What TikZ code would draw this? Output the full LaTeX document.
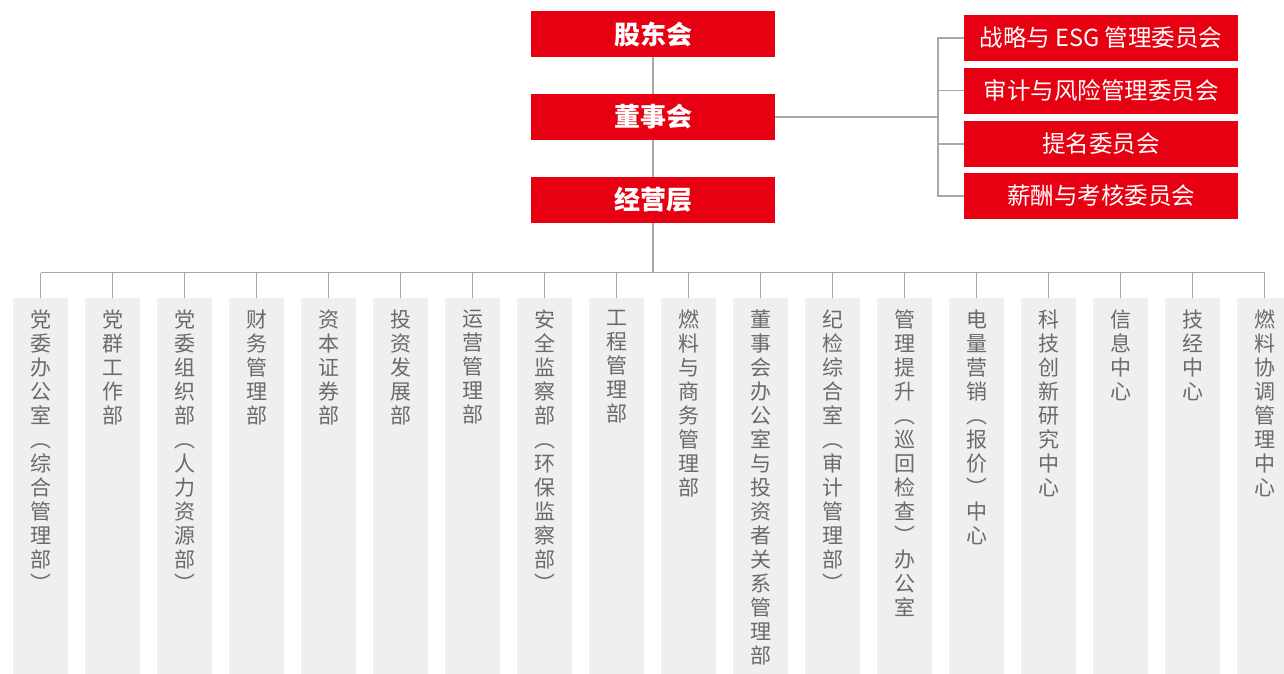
\documentclass[tikz,border=0pt]{standalone}
\usepackage{fontspec}
\setmainfont{Noto Sans CJK SC}
\definecolor{cred}{HTML}{E60012}
\definecolor{cgrayfill}{HTML}{EFEFEF}
\definecolor{cline}{HTML}{A8A8A8}
\definecolor{ctext}{HTML}{6A6A6A}
\ExplSyntaxOn
\NewDocumentCommand\vtxt{m}{\tl_set:Nx\l_tmpa_tl{#1}\vtop{\baselineskip=24pt\lineskiplimit=-\maxdimen\tl_map_inline:Nn\l_tmpa_tl{\hbox_to_wd:nn{1em}{\hss##1\hss}}}}
\ExplSyntaxOff
\begin{document}
\begin{tikzpicture}[x=1pt,y=-1pt,
  topbox/.style={fill=cred,minimum width=244pt,minimum height=46pt,inner sep=0pt,text=white,font=\fontsize{26}{28}\selectfont\bfseries},
  combox/.style={fill=cred,minimum width=274pt,minimum height=46pt,inner sep=0pt,text=white,font=\fontsize{23.5}{26}\selectfont},
  deptbox/.style={fill=cgrayfill,minimum width=55pt,minimum height=380pt,inner sep=0pt,anchor=north},
  depttext/.style={inner sep=0pt,anchor=north,text=ctext,font=\fontsize{21}{24}\selectfont},
  conn/.style={draw=cline,line width=1.3pt}]
\useasboundingbox (0,0) rectangle (1284,673);
\clip (0,0) rectangle (1284,673);
% top chain
\node[topbox] (gd) at (653,34) {股东会};
\node[topbox] (ds) at (653,117) {董事会};
\node[topbox] (jy) at (653,200) {经营层};
\draw[conn] (gd.south) -- (ds.north);
\draw[conn] (ds.south) -- (jy.north);
% committees
\node[combox] (k1) at (1101,38) {战略与 ESG 管理委员会};
\node[combox] (k2) at (1101,90.5) {审计与风险管理委员会};
\node[combox] (k3) at (1101,144) {提名委员会};
\node[combox] (k4) at (1101,196) {薪酬与考核委员会};
\coordinate (trunk) at (938,117);
\draw[conn] (ds.east) -- (trunk);
\draw[conn] (k1.west) -- (k1.west -| trunk) -- (k4.west -| trunk) -- (k4.west);
\draw[conn] (k2.west) -- (k2.west -| trunk);
\draw[conn] (k3.west) -- (k3.west -| trunk);
% departments
\coordinate (busy) at (0,272.5);
\foreach \i/\t in {1/党委办公室︵综合管理部︶,2/党群工作部,3/党委组织部︵人力资源部︶,4/财务管理部,5/资本证券部,6/投资发展部,7/运营管理部,8/安全监察部︵环保监察部︶,9/工程管理部,10/燃料与商务管理部,11/董事会办公室与投资者关系管理部,12/纪检综合室︵审计管理部︶,13/管理提升︵巡回检查︶办公室,14/电量营销︵报价︶中心,15/科技创新研究中心,16/信息中心,17/技经中心,18/燃料协调管理中心}{
  \node[deptbox] (b\i) at ({40.5+72*(\i-1)},298) {};
  \node[depttext] (t\i) at ({40.5+72*(\i-1)},310) {\vtxt{\t}};
  \draw[conn] (b\i.north) -- (b\i.north |- busy);
}
\draw[conn] (b1.north |- busy) -- (b18.north |- busy);
\draw[conn] (jy.south) -- (jy.south |- busy);
\end{tikzpicture}
\end{document}
